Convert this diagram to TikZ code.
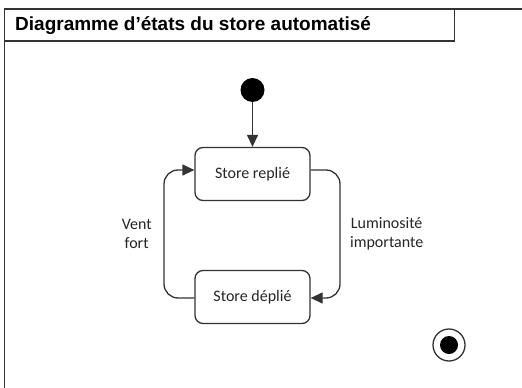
\documentclass[tikz,border=0pt]{standalone}
\usepackage{fontspec}
\setmainfont{Carlito}
\newfontfamily\titlefont{Liberation Sans}
\usetikzlibrary{arrows.meta}
\definecolor{ln}{HTML}{333333}
\tikzset{
  frame/.style={draw=ln, line width=1.5pt},
  state/.style={draw=ln, line width=1.3pt, rounded corners=8pt, minimum width=115pt, minimum height=53pt, font=\fontsize{16}{19}\selectfont, text=black!85},
  conn/.style={draw=ln, line width=1.3pt, -{Triangle[length=12pt,width=11pt]}},
  lbl/.style={align=center, font=\fontsize{16}{19}\selectfont, text=black!85}
}
\begin{document}
\begin{tikzpicture}[x=1pt,y=-1pt]
\useasboundingbox (0,0) rectangle (522,388);
\fill[white] (0,0) rectangle (522,388);
% frame
\draw[frame] (4.5,392) -- (4.5,9) -- (526,9);
\draw[frame] (4.5,41) -- (454.5,41) -- (454.5,9);
\node[anchor=west, font=\titlefont\bfseries\fontsize{19}{22}\selectfont, inner sep=0] (title) at (15,25.5) {Diagramme d’états du store automatisé};
% states
\node[circle, fill=black, minimum size=24pt, inner sep=0] (init) at (252.5,90) {};
\node[state] (rep) at (252.5,174) {Store replié};
\node[state] (dep) at (252.5,297) {Store déplié};
\node[circle, draw=ln, line width=1.3pt, minimum size=32pt, inner sep=0] (fin) at (449,345) {};
\node[circle, fill=black, minimum size=18pt, inner sep=0] (finin) at (fin.center) {};
% transitions
\draw[conn] (init) -- (rep);
\draw[conn, rounded corners=14pt] ([yshift=4pt]rep.east) -- (340,170) -- (340,298) -- ([yshift=-1pt]dep.east);
\draw[conn, rounded corners=14pt] ([yshift=-1pt]dep.west) -- (164,298) -- (164,170) -- ([yshift=4pt]rep.west);
\node[lbl] (vent) at (136.7,233.5) {Vent\\fort};
\node[lbl] (lum) at (386.7,233.5) {Luminosité\\importante};
\end{tikzpicture}
\end{document}
